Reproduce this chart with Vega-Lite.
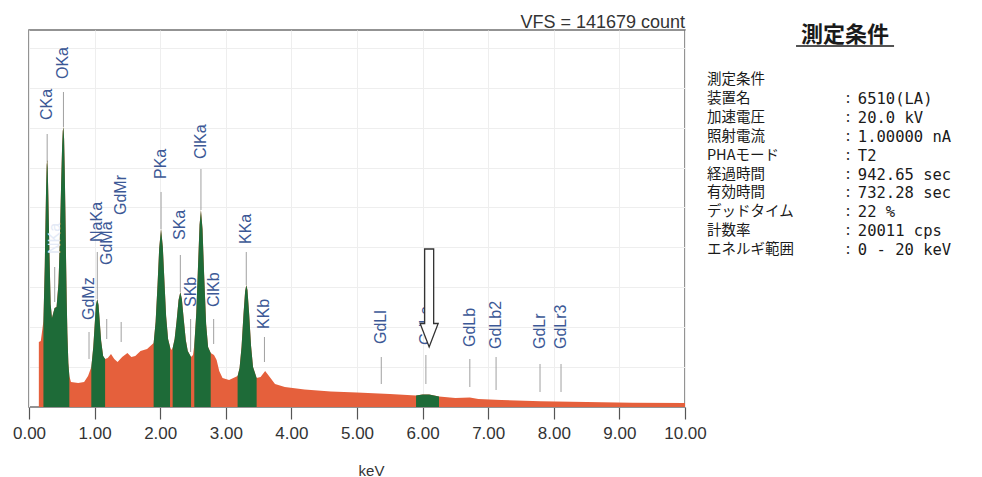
{
  "$schema": "https://vega.github.io/schema/vega-lite/v6.json",
  "background": "white",
  "padding": {"left": 11, "top": 13, "right": 0, "bottom": 0},
  "bounds": "flush",
  "spacing": 16,
  "config": {
    "view": {"stroke": "#707070", "strokeWidth": 1.5},
    "font": "Liberation Sans"
  },
  "datasets": {
    "spectrum": [
      {"keV": 0.15, "count": 24430, "peak": null},
      {"keV": 0.18, "count": 24800, "peak": null},
      {"keV": 0.22, "count": 32320, "peak": "CO"},
      {"keV": 0.24, "count": 52610, "peak": "CO"},
      {"keV": 0.25, "count": 67270, "peak": "CO"},
      {"keV": 0.26, "count": 81550, "peak": "CO"},
      {"keV": 0.27, "count": 90940, "peak": "CO"},
      {"keV": 0.277, "count": 92820, "peak": "CO"},
      {"keV": 0.285, "count": 89820, "peak": "CO"},
      {"keV": 0.295, "count": 78920, "peak": "CO"},
      {"keV": 0.31, "count": 59750, "peak": "CO"},
      {"keV": 0.33, "count": 38710, "peak": "CO"},
      {"keV": 0.35, "count": 33450, "peak": "CO"},
      {"keV": 0.37, "count": 35330, "peak": "CO"},
      {"keV": 0.39, "count": 37200, "peak": "CO"},
      {"keV": 0.42, "count": 37580, "peak": "CO"},
      {"keV": 0.45, "count": 46600, "peak": "CO"},
      {"keV": 0.47, "count": 62760, "peak": "CO"},
      {"keV": 0.49, "count": 84180, "peak": "CO"},
      {"keV": 0.505, "count": 98080, "peak": "CO"},
      {"keV": 0.515, "count": 103720, "peak": "CO"},
      {"keV": 0.525, "count": 105220, "peak": "CO"},
      {"keV": 0.535, "count": 100710, "peak": "CO"},
      {"keV": 0.545, "count": 88690, "peak": "CO"},
      {"keV": 0.555, "count": 72910, "peak": "CO"},
      {"keV": 0.565, "count": 55240, "peak": "CO"},
      {"keV": 0.575, "count": 39830, "peak": "CO"},
      {"keV": 0.585, "count": 27810, "peak": "CO"},
      {"keV": 0.60, "count": 16540, "peak": "CO"},
      {"keV": 0.615, "count": 11650, "peak": "CO"},
      {"keV": 0.64, "count": 9400, "peak": null},
      {"keV": 0.75, "count": 9020, "peak": null},
      {"keV": 0.84, "count": 9400, "peak": null},
      {"keV": 0.90, "count": 11650, "peak": null},
      {"keV": 0.95, "count": 15030, "peak": "Na"},
      {"keV": 0.98, "count": 22550, "peak": "Na"},
      {"keV": 1.00, "count": 30440, "peak": "Na"},
      {"keV": 1.02, "count": 38330, "peak": "Na"},
      {"keV": 1.041, "count": 40590, "peak": "Na"},
      {"keV": 1.06, "count": 38330, "peak": "Na"},
      {"keV": 1.08, "count": 31570, "peak": "Na"},
      {"keV": 1.10, "count": 24800, "peak": "Na"},
      {"keV": 1.13, "count": 19170, "peak": "Na"},
      {"keV": 1.16, "count": 18040, "peak": "Na"},
      {"keV": 1.20, "count": 18410, "peak": null},
      {"keV": 1.25, "count": 19920, "peak": null},
      {"keV": 1.30, "count": 18040, "peak": null},
      {"keV": 1.35, "count": 16910, "peak": null},
      {"keV": 1.42, "count": 18790, "peak": null},
      {"keV": 1.50, "count": 20290, "peak": null},
      {"keV": 1.56, "count": 18790, "peak": null},
      {"keV": 1.62, "count": 19170, "peak": null},
      {"keV": 1.70, "count": 21040, "peak": null},
      {"keV": 1.80, "count": 21800, "peak": null},
      {"keV": 1.90, "count": 24050, "peak": "P"},
      {"keV": 1.93, "count": 31940, "peak": "P"},
      {"keV": 1.96, "count": 46220, "peak": "P"},
      {"keV": 1.985, "count": 59750, "peak": "P"},
      {"keV": 2.013, "count": 66890, "peak": "P"},
      {"keV": 2.04, "count": 60130, "peak": "P"},
      {"keV": 2.065, "count": 46980, "peak": "P"},
      {"keV": 2.09, "count": 34200, "peak": "P"},
      {"keV": 2.12, "count": 25550, "peak": "P"},
      {"keV": 2.15, "count": 22550, "peak": "P"},
      {"keV": 2.17, "count": 21420, "peak": null},
      {"keV": 2.19, "count": 22170, "peak": "S"},
      {"keV": 2.22, "count": 25550, "peak": "S"},
      {"keV": 2.25, "count": 32320, "peak": "S"},
      {"keV": 2.28, "count": 40210, "peak": "S"},
      {"keV": 2.307, "count": 43220, "peak": "S"},
      {"keV": 2.33, "count": 40590, "peak": "S"},
      {"keV": 2.36, "count": 32690, "peak": "S"},
      {"keV": 2.39, "count": 25180, "peak": "S"},
      {"keV": 2.42, "count": 21040, "peak": "S"},
      {"keV": 2.47, "count": 18790, "peak": "S"},
      {"keV": 2.50, "count": 19540, "peak": null},
      {"keV": 2.52, "count": 23300, "peak": "Cl"},
      {"keV": 2.55, "count": 35330, "peak": "Cl"},
      {"keV": 2.575, "count": 51860, "peak": "Cl"},
      {"keV": 2.60, "count": 68400, "peak": "Cl"},
      {"keV": 2.621, "count": 74030, "peak": "Cl"},
      {"keV": 2.645, "count": 66890, "peak": "Cl"},
      {"keV": 2.67, "count": 49610, "peak": "Cl"},
      {"keV": 2.70, "count": 31190, "peak": "Cl"},
      {"keV": 2.73, "count": 22550, "peak": "Cl"},
      {"keV": 2.77, "count": 20290, "peak": "Cl"},
      {"keV": 2.82, "count": 19540, "peak": null},
      {"keV": 2.86, "count": 17660, "peak": null},
      {"keV": 2.90, "count": 13530, "peak": null},
      {"keV": 2.95, "count": 10900, "peak": null},
      {"keV": 3.05, "count": 10150, "peak": null},
      {"keV": 3.18, "count": 11650, "peak": "K"},
      {"keV": 3.21, "count": 14660, "peak": "K"},
      {"keV": 3.24, "count": 22550, "peak": "K"},
      {"keV": 3.27, "count": 34950, "peak": "K"},
      {"keV": 3.295, "count": 43590, "peak": "K"},
      {"keV": 3.313, "count": 45850, "peak": "K"},
      {"keV": 3.33, "count": 43970, "peak": "K"},
      {"keV": 3.355, "count": 35330, "peak": "K"},
      {"keV": 3.385, "count": 22920, "peak": "K"},
      {"keV": 3.415, "count": 15030, "peak": "K"},
      {"keV": 3.47, "count": 10900, "peak": "K"},
      {"keV": 3.53, "count": 11270, "peak": null},
      {"keV": 3.60, "count": 13530, "peak": null},
      {"keV": 3.67, "count": 11270, "peak": null},
      {"keV": 3.75, "count": 8640, "peak": null},
      {"keV": 3.90, "count": 7520, "peak": null},
      {"keV": 4.20, "count": 6580, "peak": null},
      {"keV": 4.60, "count": 5830, "peak": null},
      {"keV": 5.00, "count": 5450, "peak": null},
      {"keV": 5.50, "count": 4890, "peak": null},
      {"keV": 5.90, "count": 4320, "peak": "Gd"},
      {"keV": 6.00, "count": 4700, "peak": "Gd"},
      {"keV": 6.10, "count": 4700, "peak": "Gd"},
      {"keV": 6.25, "count": 3950, "peak": "Gd"},
      {"keV": 6.50, "count": 3380, "peak": null},
      {"keV": 6.72, "count": 3570, "peak": null},
      {"keV": 6.85, "count": 3010, "peak": null},
      {"keV": 7.20, "count": 2630, "peak": null},
      {"keV": 7.80, "count": 2180, "peak": null},
      {"keV": 8.50, "count": 1880, "peak": null},
      {"keV": 9.20, "count": 1620, "peak": null},
      {"keV": 10.0, "count": 1500, "peak": null}
    ],
    "lines": [
      {"label": "CKa", "keV": 0.277, "ty": 107860, "l1": 102590, "l2": 92000},
      {"label": "OKa", "keV": 0.525, "ty": 123260, "l1": 118380, "l2": 105230},
      {"label": "NKa", "keV": 0.392, "ty": 57500, "l1": 52610, "l2": 39460},
      {"label": "GdMz", "keV": 0.915, "ty": 32690, "l1": 28190, "l2": 18040},
      {"label": "NaKa", "keV": 1.041, "ty": 62010, "l1": 58250, "l2": 40590},
      {"label": "GdMa", "keV": 1.185, "ty": 53360, "l1": 33070, "l2": 25550},
      {"label": "GdMr", "keV": 1.405, "ty": 72150, "l1": 31940, "l2": 24430},
      {"label": "PKa", "keV": 2.013, "ty": 85680, "l1": 80800, "l2": 66890},
      {"label": "SKa", "keV": 2.307, "ty": 62760, "l1": 57120, "l2": 43220},
      {"label": "SKb", "keV": 2.464, "ty": 37580, "l1": 33070, "l2": 20670},
      {"label": "ClKa", "keV": 2.621, "ty": 93200, "l1": 89440, "l2": 74030},
      {"label": "ClKb", "keV": 2.815, "ty": 37580, "l1": 33070, "l2": 23680},
      {"label": "KKa", "keV": 3.312, "ty": 61260, "l1": 58250, "l2": 45850},
      {"label": "KKb", "keV": 3.589, "ty": 29310, "l1": 26310, "l2": 16910},
      {"label": "GdLl", "keV": 5.37, "ty": 23680, "l1": 18790, "l2": 8640},
      {"label": "GdLa", "keV": 6.05, "ty": 23300, "l1": 19540, "l2": 8640},
      {"label": "GdLb", "keV": 6.72, "ty": 22550, "l1": 18040, "l2": 7520},
      {"label": "GdLb2", "keV": 7.12, "ty": 21800, "l1": 18790, "l2": 6390},
      {"label": "GdLr", "keV": 7.79, "ty": 21800, "l1": 16160, "l2": 5640},
      {"label": "GdLr3", "keV": 8.11, "ty": 21800, "l1": 16160, "l2": 5640}
    ],
    "marker": [{"keV": 6.1, "count": 40960}],
    "conditions": [
      {"n": 0, "item": "測定条件", "value": ""},
      {"n": 1, "item": "装置名", "value": "6510(LA)"},
      {"n": 2, "item": "加速電圧", "value": "20.0 kV"},
      {"n": 3, "item": "照射電流", "value": "1.00000 nA"},
      {"n": 4, "item": "PHAモード", "value": "T2"},
      {"n": 5, "item": "経過時間", "value": "942.65 sec"},
      {"n": 6, "item": "有効時間", "value": "732.28 sec"},
      {"n": 7, "item": "デッドタイム", "value": "22 %"},
      {"n": 8, "item": "計数率", "value": "20011 cps"},
      {"n": 9, "item": "エネルギ範囲", "value": "0 - 20 keV"}
    ]
  },
  "hconcat": [
    {
      "width": 656,
      "height": 377,
      "layer": [
        {
          "data": {"name": "lines"},
          "mark": {"type": "rule", "color": "#a0a0a0", "strokeWidth": 1},
          "encoding": {
            "x": {"field": "keV", "type": "quantitative", "scale": {"domain": [0, 10], "nice": false}},
            "y": {"field": "l1", "type": "quantitative", "scale": {"domain": [0, 141679], "nice": false}},
            "y2": {"field": "l2"}
          }
        },
        {
          "data": {"name": "spectrum"},
          "mark": {"type": "area", "color": "#e5603c", "interpolate": "linear"},
          "encoding": {
            "x": {
              "field": "keV", "type": "quantitative",
              "scale": {"domain": [0, 10], "nice": false},
              "axis": {
                "title": "keV", "values": [0,1,2,3,4,5,6,7,8,9,10], "format": ".2f",
                "labelFlush": false, "labelOverlap": false, "labelBound": false,
                "labelFontSize": 17, "labelColor": "#333333", "labelPadding": 6,
                "tickSize": 12, "tickColor": "#555555", "tickWidth": 1.2,
                "domain": false,
                "grid": true, "gridColor": "#eeeeee",
                "titleFontSize": 15, "titleFontWeight": "normal", "titleColor": "#333333",
                "titleX": 342, "titleY": 63, "titleBaseline": "middle"
              }
            },
            "y": {
              "field": "count", "type": "quantitative", "stack": null,
              "scale": {"domain": [0, 141679], "nice": false},
              "axis": {
                "title": null, "labels": false, "ticks": false, "domain": false,
                "grid": true, "gridColor": "#eeeeee",
                "values": [15000, 30000, 45000, 60000, 75000, 90000, 105000, 120000, 135000]
              }
            }
          }
        },
        {
          "data": {"name": "spectrum"},
          "transform": [{"filter": "datum.peak != null"}],
          "mark": {"type": "area", "color": "#1e6b38", "interpolate": "linear"},
          "encoding": {
            "x": {"field": "keV", "type": "quantitative"},
            "y": {"field": "count", "type": "quantitative", "stack": null},
            "detail": {"field": "peak", "type": "nominal"}
          }
        },
        {
          "data": {"name": "lines"},
          "mark": {"type": "text", "angle": 270, "align": "left", "baseline": "middle", "fontSize": 16, "font": "Liberation Sans"},
          "encoding": {
            "x": {"field": "keV", "type": "quantitative"},
            "y": {"field": "ty", "type": "quantitative"},
            "text": {"field": "label"},
            "color": {"condition": {"test": "datum.label === 'NKa'", "value": "#e4eaf6"}, "value": "#3c5896"}
          }
        },
        {
          "data": {"name": "marker"},
          "mark": {
            "type": "point", "filled": true, "fill": "white", "stroke": "#333333", "strokeWidth": 1.3, "opacity": 1,
            "size": 9604,
            "shape": "M -0.092 -1 L 0.092 -1 L 0.092 0.52 L 0.184 0.52 L 0 1 L -0.184 0.52 L -0.092 0.52 Z"
          },
          "encoding": {
            "x": {"field": "keV", "type": "quantitative"},
            "y": {"field": "count", "type": "quantitative"}
          }
        },
        {
          "data": {"values": [{}]},
          "mark": {"type": "text", "align": "right", "baseline": "alphabetic", "dy": -2, "fontSize": 18, "color": "#333333"},
          "encoding": {
            "x": {"datum": 10, "type": "quantitative"},
            "y": {"datum": 141679, "type": "quantitative"},
            "text": {"value": "VFS = 141679 count"}
          }
        }
      ]
    },
    {
      "width": 270,
      "height": 377,
      "view": {"stroke": null},
      "layer": [
        {
          "data": {"values": [{}]},
          "mark": {"type": "text", "align": "center", "baseline": "middle", "fontSize": 22, "fontWeight": "bold", "font": "Noto Sans CJK JP", "color": "#1a1a1a"},
          "encoding": {
            "x": {"datum": 53.3, "type": "quantitative", "scale": {"domain": [0, 100], "nice": false}, "axis": null},
            "y": {"datum": -2.38, "type": "quantitative", "scale": {"domain": [-2.646, 17.3], "reverse": true, "nice": false, "zero": false}, "axis": null},
            "text": {"value": "測定条件"}
          }
        },
        {
          "data": {"values": [{}]},
          "mark": {"type": "rule", "color": "#1a1a1a", "strokeWidth": 1.5},
          "encoding": {
            "x": {"datum": 35.2, "type": "quantitative"},
            "x2": {"datum": 71.5},
            "y": {"datum": -1.8, "type": "quantitative"}
          }
        },
        {
          "data": {"name": "conditions"},
          "mark": {"type": "text", "align": "left", "baseline": "middle", "fontSize": 14.5, "font": "Noto Sans CJK JP", "color": "#1a1a1a"},
          "encoding": {
            "x": {"datum": 2.2, "type": "quantitative"},
            "y": {"field": "n", "type": "quantitative"},
            "text": {"field": "item"}
          }
        },
        {
          "data": {"name": "conditions"},
          "transform": [{"filter": "datum.value != ''"}],
          "mark": {"type": "text", "align": "left", "baseline": "middle", "fontSize": 14.5, "font": "Noto Sans CJK JP", "color": "#1a1a1a"},
          "encoding": {
            "x": {"datum": 53.7, "type": "quantitative"},
            "y": {"field": "n", "type": "quantitative"},
            "text": {"value": ":"}
          }
        },
        {
          "data": {"name": "conditions"},
          "transform": [{"filter": "datum.value != ''"}],
          "mark": {"type": "text", "align": "left", "baseline": "middle", "fontSize": 15.5, "font": "DejaVu Sans Mono", "color": "#1a1a1a"},
          "encoding": {
            "x": {"datum": 58.1, "type": "quantitative"},
            "y": {"field": "n", "type": "quantitative"},
            "text": {"field": "value"}
          }
        }
      ]
    }
  ]
}
